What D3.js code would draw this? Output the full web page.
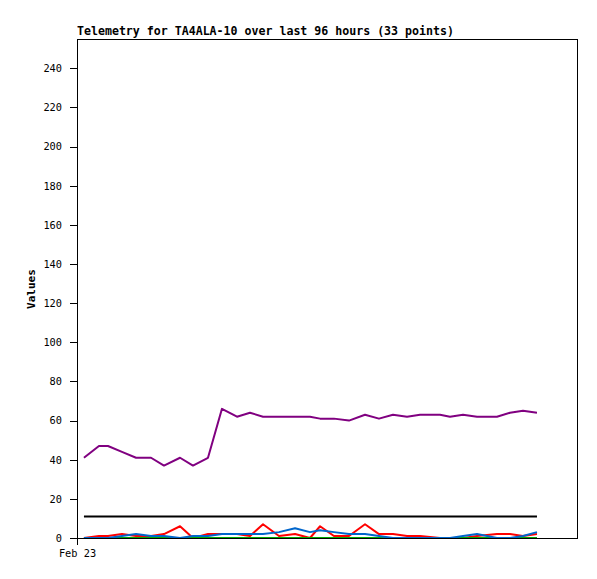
<!DOCTYPE html>
<html>
<head>
<meta charset="utf-8">
<script src="https://cdn.jsdelivr.net/npm/d3@7"></script>
<style>
  html, body { margin: 0; padding: 0; background: #fff; }
  svg { display: block; }
  .title { font-family: "DejaVu Sans Mono", monospace; font-weight: bold; font-size: 11.6px; }
  .ylabel { font-family: "DejaVu Sans Mono", monospace; font-weight: bold; font-size: 11px; }
  .axis text { font-family: "DejaVu Sans Mono", monospace; font-size: 10.3px; fill: #000; }
  .axis path { display: none; }
  .axis line { stroke: #000; shape-rendering: crispEdges; }
  .series { fill: none; stroke-width: 2; stroke-linejoin: round; }
</style>
</head>
<body>
<svg id="chart" width="597" height="579"></svg>
<script>
// sample times (33 points over the last 96 hours)
var times = [
  "2024-02-23 01:20", "2024-02-23 04:13", "2024-02-23 05:57", "2024-02-23 08:38",
  "2024-02-23 11:20", "2024-02-23 14:13", "2024-02-23 16:42", "2024-02-23 19:47",
  "2024-02-23 22:16", "2024-02-24 01:09", "2024-02-24 03:50", "2024-02-24 06:43",
  "2024-02-24 09:13", "2024-02-24 11:43", "2024-02-24 14:47", "2024-02-24 17:52",
  "2024-02-24 20:44", "2024-02-24 22:40", "2024-02-25 01:20", "2024-02-25 04:13",
  "2024-02-25 07:18", "2024-02-25 09:59", "2024-02-25 12:40", "2024-02-25 15:22",
  "2024-02-25 17:52", "2024-02-25 21:42", "2024-02-25 23:37", "2024-02-26 02:07",
  "2024-02-26 04:48", "2024-02-26 08:38", "2024-02-26 11:08", "2024-02-26 13:38",
  "2024-02-26 16:19"
];

var purpleVals = [41, 47, 47, 44, 41, 41, 37, 41, 37, 41, 66, 62, 64, 62, 62, 62, 62,
                  61, 61, 60, 63, 61, 63, 62, 63, 63, 62, 63, 62, 62, 64, 65, 64];
var blackVals  = [11, 11, 11, 11, 11, 11, 11, 11, 11, 11, 11, 11, 11, 11, 11, 11, 11,
                  11, 11, 11, 11, 11, 11, 11, 11, 11, 11, 11, 11, 11, 11, 11, 11];
var redVals    = [0, 1, 1, 2, 1, 1, 2, 6, 0, 2, 2, 2, 1, 7, 1, 2, 0,
                  6, 1, 1, 7, 2, 2, 1, 1, 0, 0, 0, 1, 2, 2, 1, 2];
var greenVals  = [0, 0, 0, 0, 0, 0, 0, 0, 0, 0, 0, 0, 0, 0, 0, 0, 0,
                  0, 0, 0, 0, 0, 0, 0, 0, 0, 0, 0, 0, 0, 0, 0, 0];
var blueVals   = [0, 0, 0, 1, 2, 1, 1, 0, 1, 1, 2, 2, 2, 2, 3, 5, 3,
                  4, 3, 2, 2, 1, 0, 0, 0, 0, 0, 1, 2, 0, 0, 1, 3];

var yTicks = [0, 20, 40, 60, 80, 100, 120, 140, 160, 180, 200, 220, 240];
var xStart = "2024-02-23 00:00";
var xEnd = "2024-02-27 00:00";

var parse = d3.timeParse("%Y-%m-%d %H:%M");
var dates = times.map(parse);

var plotL = 77, plotR = 577, plotT = 39, plotB = 538;
var svg = d3.select("#chart");

var x = d3.scaleTime().domain([parse(xStart), parse(xEnd)]).range([plotL, plotR]);
var y = d3.scaleLinear().domain([0, 255]).range([plotB, plotT]);

svg.append("text").attr("class", "title")
  .attr("x", plotL).attr("y", 35)
  .text("Telemetry for TA4ALA-10 over last 96 hours (33 points)");

svg.append("text").attr("class", "ylabel")
  .attr("transform", "translate(35,289) rotate(-90)")
  .attr("text-anchor", "middle")
  .text("Values");

svg.append("g").attr("class", "axis")
  .attr("transform", "translate(" + plotL + ",0)")
  .call(d3.axisLeft(y).tickValues(yTicks).tickSize(7).tickPadding(8));

svg.append("g").attr("class", "axis")
  .attr("transform", "translate(0," + plotB + ")")
  .call(d3.axisBottom(x).tickValues([parse(xStart)]).tickSize(7).tickPadding(5)
    .tickFormat(d3.timeFormat("%b %d")));

var line = d3.line()
  .x(function (d, i) { return x(dates[i]); })
  .y(function (d) { return y(d); });

var series = [
  { vals: blackVals, color: "#000000", w: 2.6 },
  { vals: purpleVals, color: "#800080", w: 2 },
  { vals: redVals, color: "#ff0000", w: 2 },
  { vals: greenVals, color: "#00aa00", w: 2 },
  { vals: blueVals, color: "#0066cc", w: 2 }
];
series.forEach(function (s) {
  svg.append("path").datum(s.vals)
    .attr("class", "series")
    .attr("stroke", s.color)
    .attr("stroke-width", s.w)
    .attr("d", line);
});

svg.append("rect")
  .attr("x", plotL).attr("y", plotT)
  .attr("width", plotR - plotL).attr("height", plotB - plotT)
  .attr("fill", "none").attr("stroke", "#000").attr("stroke-width", 1)
  .attr("shape-rendering", "crispEdges");
</script>
</body>
</html>
